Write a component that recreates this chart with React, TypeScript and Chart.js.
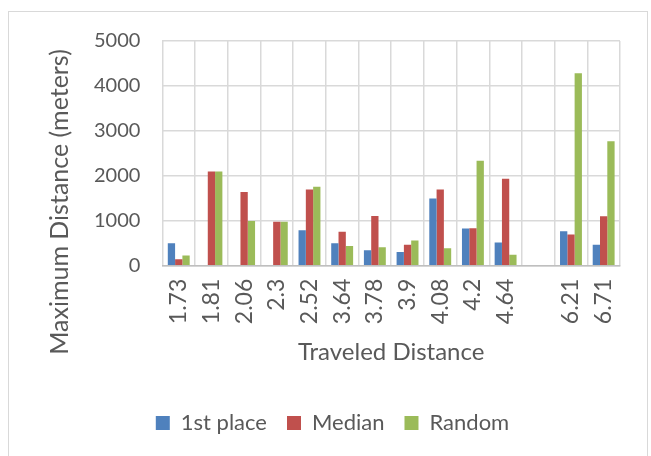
import React, { useEffect, useRef } from "react";
import { Chart, registerables } from "chart.js";

Chart.register(...registerables);

const categories = ["1.73", "1.81", "2.06", "2.3", "2.52", "3.64", "3.78", "3.9", "4.08", "4.2", "4.64", "", "6.21", "6.71"];
const firstPlace = [500, 0, 0, 0, 790, 500, 345, 306, 1495, 830, 515, null, 770, 470];
const median = [145, 2095, 1640, 980, 1695, 755, 1105, 465, 1695, 835, 1935, null, 695, 1100];
const random = [230, 2095, 995, 980, 1755, 440, 410, 560, 390, 2335, 245, null, 4285, 2770];
const yTicks = [0, 1000, 2000, 3000, 4000, 5000];
const yTitle = "Maximum Distance (meters)";

const FONT = "Lato, 'Open Sans', sans-serif";
const TEXT = "#595959";

const yTitlePlugin = {
  id: "yTitlePlugin",
  afterDraw(chart: any) {
    const { ctx } = chart;
    ctx.save();
    ctx.translate(60, 202);
    ctx.rotate(-Math.PI / 2);
    ctx.font = `25px ${FONT}`;
    ctx.fillStyle = TEXT;
    ctx.textAlign = "center";
    ctx.textBaseline = "middle";
    ctx.fillText(yTitle, 0, 0);
    ctx.restore();
  },
};

export default function App() {
  const ref = useRef<HTMLCanvasElement>(null);
  useEffect(() => {
    document.body.style.margin = "0";
    const chart = new Chart(ref.current!, {
      type: "bar",
      data: {
        labels: categories,
        datasets: [
          { label: "1st place", data: firstPlace, backgroundColor: "#4F81BD" },
          { label: "Median", data: median, backgroundColor: "#C0504D" },
          { label: "Random", data: random, backgroundColor: "#9BBB59" },
        ],
      },
      plugins: [yTitlePlugin],
      options: {
        animation: false,
        responsive: false,
        layout: { padding: { left: 45, right: 31, top: 41, bottom: 12 } },
        datasets: { bar: { categoryPercentage: 0.67, barPercentage: 1 } } as any,
        plugins: {
          tooltip: { enabled: false },
          legend: {
            position: "bottom",
            labels: {
              color: TEXT,
              font: { family: FONT, size: 22 },
              boxWidth: 14,
              boxHeight: 14,
              padding: 20,
            },
          },
        },
        scales: {
          x: {
            grid: { color: "#d9d9d9", lineWidth: 1.5, drawTicks: false },
            border: { color: "#bfbfbf", width: 1.5 },
            ticks: {
              color: TEXT,
              font: { family: FONT, size: 23 },
              maxRotation: 90,
              minRotation: 90,
              padding: 13,
              autoSkip: false,
            },
            title: {
              display: true,
              text: "Traveled Distance",
              color: TEXT,
              font: { family: FONT, size: 24 },
              padding: { top: 1, bottom: 25 },
            },
          },
          y: {
            min: 0,
            max: 5000,
            afterBuildTicks: (axis: any) => {
              axis.ticks = yTicks.map((v) => ({ value: v }));
            },
            afterFit: (axis: any) => {
              axis.width += 27;
            },
            grid: { color: "#d9d9d9", lineWidth: 1.5, drawTicks: false },
            border: { display: false },
            ticks: {
              color: TEXT,
              font: { family: FONT, size: 20 },
              padding: 22,
              callback: (v: any) => String(v),
            },
          },
        },
      },
    });
    return () => chart.destroy();
  }, []);
  return (
    <div style={{ position: "relative", width: 651, height: 456 }}>
      <canvas ref={ref} width={651} height={456} style={{ display: "block" }} />
      <div
        style={{
          position: "absolute",
          left: 8,
          top: 11,
          width: 640,
          height: 460,
          border: "1.5px solid #d9d9d9",
          pointerEvents: "none",
          boxSizing: "border-box",
        }}
      />
    </div>
  );
}
